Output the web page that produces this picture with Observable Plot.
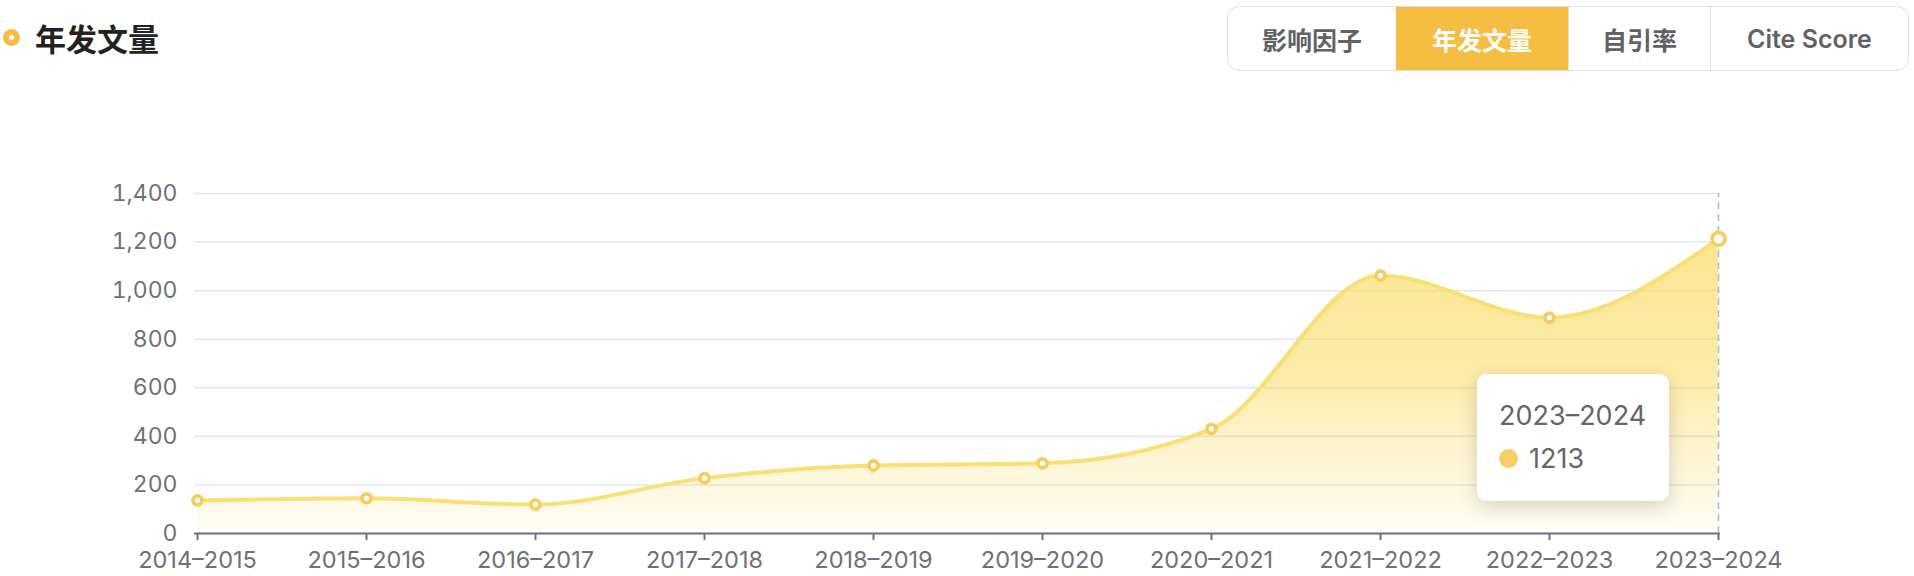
<!DOCTYPE html>
<html>
<head>
<meta charset="utf-8">
<script src="https://cdn.jsdelivr.net/npm/d3@7"></script>
<script src="https://cdn.jsdelivr.net/npm/@observablehq/plot@0.6"></script>
<style>
  html, body { margin: 0; padding: 0; background: #fff; }
  body { width: 1914px; height: 576px; position: relative; overflow: hidden;
         font-family: Inter, "Noto Sans CJK SC", sans-serif; }
  #title { position: absolute; left: 3px; top: 15px; display: flex; align-items: center;
           font-family: "Noto Sans CJK SC", sans-serif; font-weight: 700; font-size: 31px; color: #222; }
  #title .ico { width: 5px; height: 5px; border: 6.5px solid #f5bd42; border-radius: 50%; margin-right: 15px; }
  #tabs { position: absolute; left: 1227px; top: 6px; height: 63px; display: flex;
          border: 1.5px solid #dcdfe6; border-radius: 12px; overflow: hidden; }
  #tabs div { height: 63px; display: flex; align-items: center; justify-content: center;
              font-size: 25px; color: #606266; font-weight: 600; font-family: Inter, "Noto Sans CJK SC", sans-serif;
              border-left: 1.5px solid #dcdfe6; box-sizing: border-box; }
  #tabs div:first-child { border-left: none; }
  #tabs div.active { background: #f5bd42; color: #fff; border-left: none; font-weight: 700; }
  #chart { position: absolute; left: 0; top: 0; }
  #tip { position: absolute; left: 1477px; top: 374px; width: 192px; height: 127px; background: #fff;
         border-radius: 9px; box-shadow: 0 6px 20px rgba(0,0,0,0.16); color: #666; font-size: 27px; }
  #tip .t { position: absolute; left: 22px; top: 25px; }
  #tip .v { position: absolute; left: 22px; top: 68px; display: flex; align-items: center; }
  #tip .v span.d { width: 19px; height: 19px; border-radius: 50%; background: #f7cf66; margin-right: 11px; }
</style>
</head>
<body>
<div id="title"><span class="ico"></span>年发文量</div>
<div id="tabs"></div>
<div id="chart"></div>
<div id="tip"></div>
<script>
const categories = ["2014–2015","2015–2016","2016–2017","2017–2018","2018–2019","2019–2020","2020–2021","2021–2022","2022–2023","2023–2024"];
const values = [136, 145, 119, 228, 280, 289, 431, 1062, 889, 1213];
const yTicks = [0, 200, 400, 600, 800, 1000, 1200, 1400];
const tabNames = ["影响因子", "年发文量", "自引率", "Cite Score"];
const tabWidths = [168, 172, 142, 198];
const activeTab = "年发文量";
const hovered = categories.length - 1;

const data = categories.map((c, i) => ({cat: c, value: values[i]}));

// tabs
const tabs = document.getElementById("tabs");
tabNames.forEach((n, i) => {
  const d = document.createElement("div");
  d.textContent = n;
  d.style.width = tabWidths[i] + "px";
  if (n === activeTab) d.className = "active";
  tabs.appendChild(d);
});

const plot = Plot.plot({
  width: 1914,
  height: 576,
  marginLeft: 194,
  marginRight: 194,
  marginTop: 193,
  marginBottom: 43,
  style: {fontFamily: "Inter, 'Noto Sans CJK SC', sans-serif", fontSize: "23px", color: "#6e7079", background: "transparent"},
  x: {type: "point", domain: categories, padding: 0},
  y: {domain: [0, 1400]},
  marks: [
    Plot.gridY(yTicks, {stroke: "#e0e6f1", strokeOpacity: 1, strokeWidth: 1.5}),
    Plot.areaY(data, {x: "cat", y: "value", curve: "monotone-x", fill: "url(#areaGrad)"}),
    Plot.ruleY([0], {stroke: "#6e7079", strokeWidth: 2}),
    Plot.axisY(yTicks, {tickSize: 0, tickPadding: 17, tickFormat: d3.format(","), fill: "#6e7079", fontSize: 23, label: null}),
    Plot.axisX({tickSize: 7, tickPadding: 11, stroke: "#6e7079", strokeWidth: 2, fill: "#6e7079", fontSize: 23.5, label: null}),
    Plot.ruleX([categories[hovered]], {y1: 0, y2: 1400, stroke: "#b3b6c4", strokeWidth: 1.5, strokeDasharray: "7,5"}),
    Plot.lineY(data, {x: "cat", y: "value", curve: "monotone-x", stroke: "#fadf74", strokeWidth: 4}),
    Plot.dot(data.filter((d, i) => i !== hovered), {x: "cat", y: "value", r: 4.5, fill: "#fff", stroke: "#f6cd62", strokeWidth: 3.8}),
    Plot.dot([data[hovered]], {x: "cat", y: "value", r: 6.5, fill: "#fff", stroke: "#f6cd62", strokeWidth: 3.8})
  ]
});

const ns = "http://www.w3.org/2000/svg";
const defs = document.createElementNS(ns, "defs");
const lg = document.createElementNS(ns, "linearGradient");
lg.setAttribute("id", "areaGrad");
lg.setAttribute("x1", "0"); lg.setAttribute("y1", "0");
lg.setAttribute("x2", "0"); lg.setAttribute("y2", "1");
[[0, "rgba(248,216,80,0.62)"], [0.45, "rgba(248,216,80,0.5)"], [1, "rgba(248,216,80,0.04)"]].forEach(([o, c]) => {
  const s = document.createElementNS(ns, "stop");
  s.setAttribute("offset", o);
  s.setAttribute("stop-color", c);
  lg.appendChild(s);
});
defs.appendChild(lg);
plot.insertBefore(defs, plot.firstChild);
document.getElementById("chart").appendChild(plot);

// tooltip
const tip = document.getElementById("tip");
tip.innerHTML = `<div class="t">${categories[hovered]}</div><div class="v"><span class="d"></span><span>${values[hovered]}</span></div>`;
</script>
</body>
</html>
